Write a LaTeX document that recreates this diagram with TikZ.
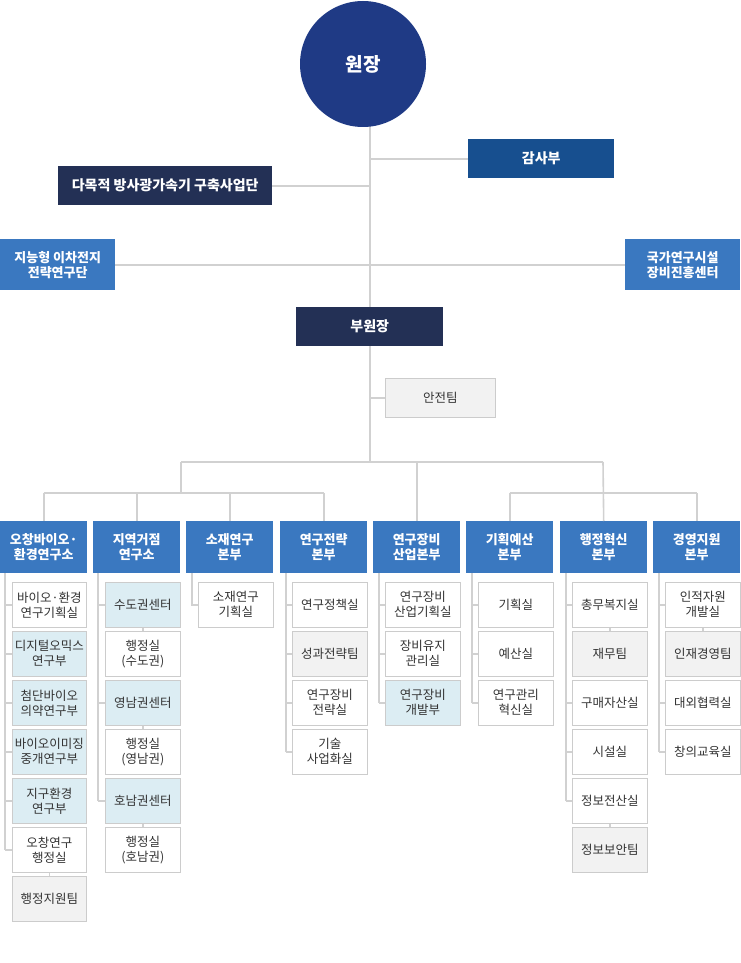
\documentclass[tikz,border=0pt]{standalone}
\usepackage{fontspec}
\setmainfont{Noto Sans CJK KR}
\begin{document}
\begin{tikzpicture}[x=1pt,y=-1pt,
 ln/.style={draw=black!18,line width=1.6pt},
 hd/.style={fill=hblue,text=white,font=\fontsize{13}{15}\selectfont\bfseries,align=center,minimum width=87pt,minimum height=52pt,inner sep=0pt,anchor=north west},
 sb/.style={draw=black!20,line width=0.6pt,text=black!80,font=\fontsize{12.5}{15}\selectfont,align=center,minimum width=75pt,minimum height=45pt,inner sep=0pt,anchor=north west},
 wb/.style={sb,fill=white}, lb/.style={sb,fill=lblue}, gb/.style={sb,fill=black!5},
 top/.style={text=white,font=\fontsize{14}{17}\selectfont\bfseries,align=center,inner sep=0pt,anchor=north west}]
\definecolor{hblue}{HTML}{3A78C0}\definecolor{lblue}{HTML}{DCEDF3}
\definecolor{navy}{HTML}{233055}\definecolor{dblue}{HTML}{174F8F}\definecolor{cblue}{HTML}{1F3A85}
\useasboundingbox (0,0) rectangle (740,963);
% top
\coordinate (T) at (370,120); \coordinate (B) at (370,462);
\draw[ln] (T) -- (B);
\node[circle,fill=cblue,minimum size=126pt,text=white,font=\fontsize{19}{22}\selectfont\bfseries] (ceo) at (363,64) {원장};
\node[top,fill=dblue,minimum width=146pt,minimum height=39pt] (audit) at (468,139) {감사부};
\node[top,fill=navy,minimum width=214pt,minimum height=39pt] (accel) at (58,166) {다목적 방사광가속기 구축사업단};
\node[top,fill=hblue,minimum width=115pt,minimum height=51pt,font=\fontsize{13}{15}\selectfont\bfseries] (batt) at (0,239) {지능형 이차전지\\전략연구단};
\node[top,fill=hblue,minimum width=115pt,minimum height=51pt,font=\fontsize{13}{15}\selectfont\bfseries] (nfec) at (625,239) {국가연구시설\\장비진흥센터};
\node[top,fill=navy,minimum width=147pt,minimum height=39pt] (vp) at (296,307) {부원장};
\node[sb,fill=black!5,minimum width=110pt,minimum height=39pt] (safe) at (385,378) {안전팀};
\draw[ln] (audit.west) -- (audit.west -| T);
\draw[ln] (accel.east) -- (accel.east -| T);
\draw[ln] (batt.east) -- (nfec.west);
\draw[ln] (safe.west) -- (safe.west -| T);
% headers
\node[hd] (h1) at (0,521) {오창바이오·\\환경연구소};
\node[hd] (h2) at (93,521) {지역거점\\연구소};
\node[hd] (h3) at (186,521) {소재연구\\본부};
\node[hd] (h4) at (280,521) {연구전략\\본부};
\node[hd] (h5) at (373,521) {연구장비\\산업본부};
\node[hd] (h6) at (466,521) {기획예산\\본부};
\node[hd] (h7) at (560,521) {행정혁신\\본부};
\node[hd] (h8) at (653,521) {경영지원\\본부};
\coordinate (bl) at (181,462); \coordinate (br) at (603,462);
\coordinate (gl) at (181,493); \coordinate (gr) at (603,493);
\draw[ln] (bl) -- (br);
\draw[ln] (bl) -- (gl); \draw[ln] (br) -- (h7.north);
\draw[ln] (h5.north |- B) -- (h5.north);
\draw[ln] (h1.north |- gl) -- (h4.north |- gl);
\draw[ln] (h6.north |- gr) -- (h8.north |- gr);
\foreach \h in {h1,h2,h3,h4} \draw[ln] (\h.north |- gl) -- (\h.north);
\foreach \h in {h6,h8} \draw[ln] (\h.north |- gr) -- (\h.north);
% column 1
\node[wb,minimum width=74pt] (a1) at (12,582) {바이오·환경\\연구기획실};
\node[lb,minimum width=74pt] (a2) at (12,631) {디지털오믹스\\연구부};
\node[lb,minimum width=74pt] (a3) at (12,680) {첨단바이오\\의약연구부};
\node[lb,minimum width=74pt] (a4) at (12,729) {바이오이미징\\중개연구부};
\node[lb,minimum width=74pt] (a5) at (12,778) {지구환경\\연구부};
\node[wb,minimum width=74pt] (a6) at (12,827) {오창연구\\행정실};
\node[gb,minimum width=74pt] (a7) at (12,876) {행정지원팀};
\coordinate (L1) at (5,573);
\draw[ln] (L1) -- (L1 |- a6.west);
\foreach \b in {a1,a2,a3,a4,a5,a6} \draw[ln] (L1 |- \b.west) -- (\b.west);
\draw[ln] (a6.south) -- (a7.north);
% column 2
\node[lb] (c1) at (105,582) {수도권센터};
\node[wb] (c2) at (105,631) {행정실\\(수도권)};
\node[lb] (c3) at (105,680) {영남권센터};
\node[wb] (c4) at (105,729) {행정실\\(영남권)};
\node[lb] (c5) at (105,778) {호남권센터};
\node[wb] (c6) at (105,827) {행정실\\(호남권)};
\coordinate (L2) at (98,573);
\draw[ln] (L2) -- (L2 |- c5.west);
\foreach \b in {c1,c3,c5} \draw[ln] (L2 |- \b.west) -- (\b.west);
\draw[ln] (c1.south) -- (c2.north); \draw[ln] (c3.south) -- (c4.north); \draw[ln] (c5.south) -- (c6.north);
% column 3
\node[wb] (d1) at (198,582) {소재연구\\기획실};
\coordinate (L3) at (192,573);
\draw[ln] (L3) |- (d1.west);
% column 4
\node[wb] (e1) at (292,582) {연구정책실};
\node[gb] (e2) at (292,631) {성과전략팀};
\node[wb] (e3) at (292,680) {연구장비\\전략실};
\node[wb] (e4) at (292,729) {기술\\사업화실};
\coordinate (L4) at (286,573);
\draw[ln] (L4) -- (L4 |- e4.west);
\foreach \b in {e1,e2,e3,e4} \draw[ln] (L4 |- \b.west) -- (\b.west);
% column 5
\node[wb] (f1) at (385,582) {연구장비\\산업기획실};
\node[wb] (f2) at (385,631) {장비유지\\관리실};
\node[lb] (f3) at (385,680) {연구장비\\개발부};
\coordinate (L5) at (379,573);
\draw[ln] (L5) -- (L5 |- f3.west);
\foreach \b in {f1,f2,f3} \draw[ln] (L5 |- \b.west) -- (\b.west);
% column 6
\node[wb] (g1) at (478,582) {기획실};
\node[wb] (g2) at (478,631) {예산실};
\node[wb] (g3) at (478,680) {연구관리\\혁신실};
\coordinate (L6) at (472,573);
\draw[ln] (L6) -- (L6 |- g3.west);
\foreach \b in {g1,g2,g3} \draw[ln] (L6 |- \b.west) -- (\b.west);
% column 7
\node[wb] (k1) at (572,582) {총무복지실};
\node[gb] (k2) at (572,631) {재무팀};
\node[wb] (k3) at (572,680) {구매자산실};
\node[wb] (k4) at (572,729) {시설실};
\node[wb] (k5) at (572,778) {정보전산실};
\node[gb] (k6) at (572,827) {정보보안팀};
\coordinate (L7) at (566,573);
\draw[ln] (L7) -- (L7 |- k5.west);
\foreach \b in {k1,k3,k4,k5} \draw[ln] (L7 |- \b.west) -- (\b.west);
\draw[ln] (k1.south) -- (k2.north); \draw[ln] (k5.south) -- (k6.north);
% column 8
\node[wb] (m1) at (665,582) {인적자원\\개발실};
\node[gb] (m2) at (665,631) {인재경영팀};
\node[wb] (m3) at (665,680) {대외협력실};
\node[wb] (m4) at (665,729) {창의교육실};
\coordinate (L8) at (659,573);
\draw[ln] (L8) -- (L8 |- m4.west);
\foreach \b in {m1,m3,m4} \draw[ln] (L8 |- \b.west) -- (\b.west);
\draw[ln] (m1.south) -- (m2.north);
\end{tikzpicture}
\end{document}
